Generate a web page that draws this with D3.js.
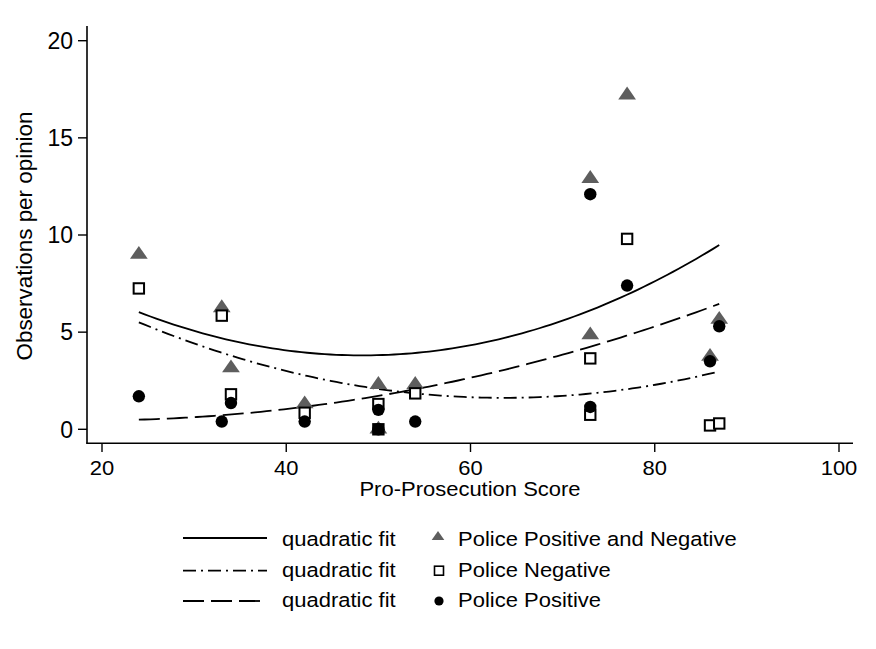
<!DOCTYPE html>
<html>
<head>
<meta charset="utf-8">
<script src="https://cdn.jsdelivr.net/npm/d3@7"></script>
<style>
  body { margin: 0; background: #fff; }
  svg text { font-family: "Liberation Sans", Arial, Helvetica, sans-serif; fill: #000; }
</style>
</head>
<body>
<div class="chart"></div>
<script>
// one entry per opinion
let scores = [24, 33, 34, 42, 50, 50, 54, 73, 73, 77, 86, 87]
let bothCounts = [9.0, 6.25, 3.15, 1.3, 2.3, 0, 2.3, 12.9, 4.85, 17.2, 3.75, 5.65]
let negCounts = [7.25, 5.85, 1.8, 0.85, 1.3, 0, 1.85, 0.75, 3.65, 9.8, 0.2, 0.3]
let posCounts = [1.7, 0.4, 1.35, 0.4, 1.0, 0, 0.4, 12.1, 1.15, 7.4, 3.5, 5.3]

let xTicks = [20, 40, 60, 80, 100]
let yTicks = [0, 5, 10, 15, 20]
let seriesNames = ["Police Positive and Negative", "Police Negative", "Police Positive"]

let gray = "#5e5e5e"

let svg = d3.select(".chart")
  .append("svg")
  .attr("width", 876)
  .attr("height", 649)

let x = d3.scaleLinear().domain([20, 100]).range([102, 839])
let y = d3.scaleLinear().domain([0, 20]).range([429.3, 40.7])

// least squares fit of y = a + b*x + c*x^2
let qfit = (xs, ys) => {
  let s = [0, 0, 0, 0, 0], t = [0, 0, 0]
  xs.forEach((xv, i) => {
    for (let k = 0; k < 5; k++) s[k] += Math.pow(xv, k)
    for (let k = 0; k < 3; k++) t[k] += ys[i] * Math.pow(xv, k)
  })
  let m = [[s[0], s[1], s[2], t[0]], [s[1], s[2], s[3], t[1]], [s[2], s[3], s[4], t[2]]]
  for (let c = 0; c < 3; c++) {
    for (let r = c + 1; r < 3; r++) {
      let f = m[r][c] / m[c][c]
      for (let k = c; k < 4; k++) m[r][k] -= f * m[c][k]
    }
  }
  let coef = [0, 0, 0]
  for (let r = 2; r >= 0; r--) {
    let v = m[r][3]
    for (let k = r + 1; k < 3; k++) v -= m[r][k] * coef[k]
    coef[r] = v / m[r][r]
  }
  let lo = d3.min(xs), hi = d3.max(xs)
  return d3.range(101).map(i => {
    let xv = lo + (hi - lo) * i / 100
    return [xv, coef[0] + coef[1] * xv + coef[2] * xv * xv]
  })
}

let fits = [
  { pts: qfit(scores, bothCounts), dash: null },
  { pts: qfit(scores, negCounts), dash: "13,5,2,5" },
  { pts: qfit(scores, posCounts), dash: "21,7" }
]

let line = d3.line().x(d => x(d[0])).y(d => y(d[1]))

// axes
let axisG = svg.append("g")
axisG.append("line").attr("x1", 87).attr("x2", 87).attr("y1", 26).attr("y2", 443.5)
  .attr("stroke", "#000").attr("stroke-width", 1.6)
axisG.append("line").attr("x1", 86.2).attr("x2", 853).attr("y1", 443.3).attr("y2", 443.3)
  .attr("stroke", "#000").attr("stroke-width", 1.6)

axisG.selectAll(".xt").data(xTicks).enter().append("line")
  .attr("x1", d => x(d)).attr("x2", d => x(d))
  .attr("y1", 443).attr("y2", 452)
  .attr("stroke", "#000").attr("stroke-width", 1.4)
axisG.selectAll(".xl").data(xTicks).enter().append("text")
  .attr("transform", d => `translate(${x(d)},475) scale(1,0.93)`)
  .attr("text-anchor", "middle")
  .style("font-size", "22px")
  .text(d => d)

axisG.selectAll(".yt").data(yTicks).enter().append("line")
  .attr("x1", 78).attr("x2", 87)
  .attr("y1", d => y(d)).attr("y2", d => y(d))
  .attr("stroke", "#000").attr("stroke-width", 1.4)
axisG.selectAll(".yl").data(yTicks).enter().append("text")
  .attr("x", 73).attr("y", d => y(d) + 8.3)
  .attr("text-anchor", "end")
  .style("font-size", "23px")
  .text(d => d)

svg.append("text")
  .attr("transform", "translate(470,496) scale(1,0.9)")
  .attr("text-anchor", "middle")
  .style("font-size", "22px")
  .text("Pro-Prosecution Score")

svg.append("text")
  .attr("transform", "translate(31.5,236) rotate(-90)")
  .attr("text-anchor", "middle")
  .style("font-size", "22.4px")
  .text("Observations per opinion")

// fit lines
svg.selectAll(".fit").data(fits).enter().append("path")
  .attr("d", d => line(d.pts))
  .attr("fill", "none")
  .attr("stroke", "#000")
  .attr("stroke-width", 1.8)
  .attr("stroke-dasharray", d => d.dash)

// markers
let tri = d3.symbol().type(d3.symbolTriangle).size(95)
svg.selectAll(".tri").data(scores).enter().append("path")
  .attr("d", tri)
  .attr("transform", (d, i) => `translate(${x(d)},${y(bothCounts[i])}) scale(1.2,1)`)
  .attr("fill", gray)

svg.selectAll(".sq").data(scores).enter().append("rect")
  .attr("x", d => x(d) - 5.2)
  .attr("y", (d, i) => y(negCounts[i]) - 5.2)
  .attr("width", 10.4).attr("height", 10.4)
  .attr("fill", "#fff")
  .attr("stroke", "#000")
  .attr("stroke-width", 2)

svg.selectAll(".dot").data(scores).enter().append("circle")
  .attr("cx", d => x(d))
  .attr("cy", (d, i) => y(posCounts[i]))
  .attr("r", 6.2)
  .attr("fill", "#000")

// legend
let legRows = [538, 570.7, 601]
let legBase = [545.7, 577, 607]
let leg = svg.append("g")
fits.forEach((f, i) => {
  leg.append("line")
    .attr("x1", 183).attr("x2", 267)
    .attr("y1", legRows[i]).attr("y2", legRows[i])
    .attr("stroke", "#000").attr("stroke-width", 1.8)
    .attr("stroke-dasharray", f.dash)
  leg.append("text")
    .attr("transform", `translate(282,${legBase[i]}) scale(1,0.93)`)
    .style("font-size", "22px")
    .text("quadratic fit")
  leg.append("text")
    .attr("transform", `translate(458,${legBase[i]}) scale(1,0.93)`)
    .style("font-size", "22px")
    .text(seriesNames[i])
})
leg.append("path")
  .attr("d", d3.symbol().type(d3.symbolTriangle).size(48))
  .attr("transform", `translate(438,${legRows[0] - 1}) scale(1.2,1)`)
  .attr("fill", gray)
leg.append("rect")
  .attr("x", 434.5).attr("y", legRows[1] - 4.5)
  .attr("width", 9).attr("height", 9)
  .attr("fill", "#fff").attr("stroke", "#000").attr("stroke-width", 1.6)
leg.append("circle")
  .attr("cx", 439).attr("cy", legRows[2])
  .attr("r", 4.6)
  .attr("fill", "#000")
</script>
</body>
</html>
